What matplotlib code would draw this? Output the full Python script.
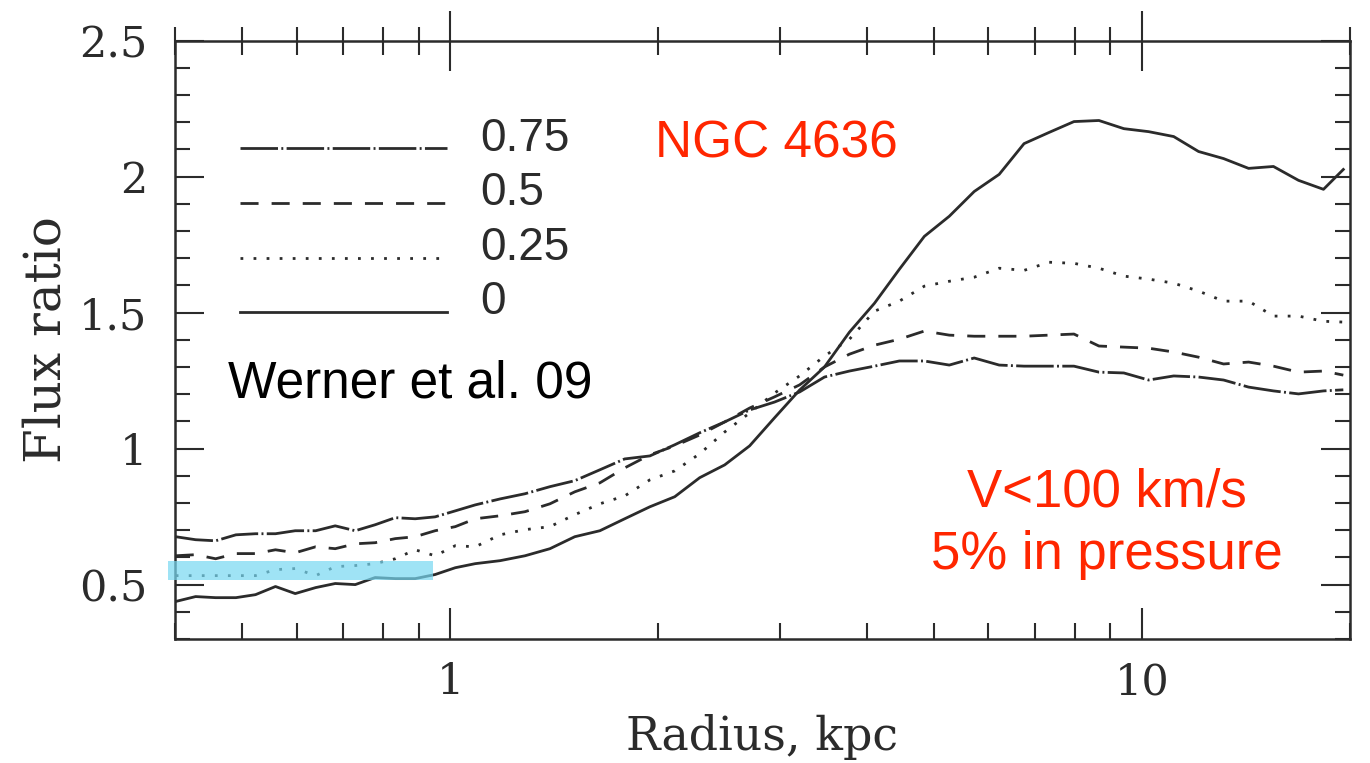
import numpy as np
import matplotlib.pyplot as plt
from matplotlib.patches import Rectangle
from matplotlib.ticker import LogLocator, NullFormatter, MultipleLocator, FixedLocator

# radius in kpc (log sampled)
radius = [0.401, 0.4285, 0.458, 0.490, 0.523, 0.559, 0.597, 0.639, 0.682, 0.729,
          0.779, 0.833, 0.890, 0.951, 1.017, 1.087, 1.181, 1.283, 1.394, 1.514,
          1.646, 1.788, 1.944, 2.112, 2.295, 2.494, 2.710, 2.944, 3.200, 3.477,
          3.778, 4.106, 4.461, 4.848, 5.268, 5.724, 6.220, 6.757, 7.342, 7.978,
          8.670, 9.419, 10.23, 11.12, 12.08, 13.13, 14.27, 15.50, 16.85, 18.31, 19.56]

# flux ratio for the different turbulence fractions
flux_0 = [0.438, 0.456, 0.452, 0.452, 0.463, 0.493, 0.467, 0.489, 0.504, 0.500,
          0.526, 0.522, 0.522, 0.537, 0.562, 0.577, 0.588, 0.606, 0.632, 0.676,
          0.698, 0.742, 0.786, 0.823, 0.893, 0.940, 1.010, 1.113, 1.215, 1.300,
          1.428, 1.534, 1.659, 1.780, 1.854, 1.945, 2.008, 2.121, 2.162, 2.202,
          2.206, 2.176, 2.165, 2.147, 2.092, 2.066, 2.030, 2.037, 1.986, 1.953, 2.026]
flux_025 = [0.533, 0.533, 0.533, 0.533, 0.533, 0.555, 0.559, 0.533, 0.566, 0.570,
            0.577, 0.595, 0.628, 0.606, 0.643, 0.639, 0.683, 0.702, 0.713, 0.757,
            0.797, 0.826, 0.885, 0.918, 0.981, 1.061, 1.131, 1.204, 1.267, 1.340,
            1.402, 1.505, 1.542, 1.597, 1.615, 1.630, 1.663, 1.655, 1.685, 1.681,
            1.663, 1.634, 1.623, 1.608, 1.579, 1.542, 1.542, 1.487, 1.487, 1.468, 1.465]
flux_05 = [0.606, 0.610, 0.595, 0.614, 0.614, 0.628, 0.617, 0.639, 0.632, 0.650,
           0.654, 0.669, 0.676, 0.698, 0.713, 0.742, 0.753, 0.768, 0.797, 0.841,
           0.874, 0.929, 0.977, 1.010, 1.050, 1.098, 1.149, 1.190, 1.234, 1.300,
           1.347, 1.380, 1.402, 1.432, 1.417, 1.413, 1.413, 1.413, 1.417, 1.421,
           1.377, 1.373, 1.369, 1.355, 1.336, 1.311, 1.318, 1.303, 1.281, 1.285, 1.270]
flux_075 = [0.676, 0.665, 0.661, 0.683, 0.687, 0.687, 0.698, 0.698, 0.716, 0.698,
            0.720, 0.746, 0.742, 0.749, 0.771, 0.793, 0.815, 0.834, 0.860, 0.882,
            0.922, 0.962, 0.973, 1.014, 1.058, 1.098, 1.142, 1.171, 1.208, 1.263,
            1.285, 1.303, 1.322, 1.322, 1.307, 1.333, 1.307, 1.303, 1.303, 1.303,
            1.281, 1.278, 1.252, 1.267, 1.263, 1.252, 1.226, 1.212, 1.201, 1.212, 1.216]

labels = ["0.75", "0.5", "0.25", "0"]

ink = '#2b2b2b'
red = '#ff2600'
lw = 2.0
styles = [(0, (13.5, 1.2, 0.7, 1.2)), (0, (6.5, 4.7)), (0, (1.0, 3.7)), '-']
series = [flux_075, flux_05, flux_025, flux_0]

fig = plt.figure(figsize=(13.7, 7.63), dpi=100)
ax = fig.add_axes([0.1277, 0.1625, 0.8577, 0.7844])

for y, ls in zip(series, styles):
    ax.plot(radius, y, color=ink, lw=lw, linestyle=ls)

ax.set_xscale('log')
ax.set_xlim(0.4, 20)
ax.set_ylim(0.3, 2.5)

serif = 'DejaVu Serif'
ax.xaxis.set_major_locator(FixedLocator([1, 10]))
ax.set_xticklabels(['1', '10'], family=serif, fontsize=31, color=ink)
ax.xaxis.set_minor_locator(LogLocator(base=10, subs=np.arange(2, 10)))
ax.xaxis.set_minor_formatter(NullFormatter())
ax.set_yticks([0.5, 1, 1.5, 2, 2.5])
ax.set_yticklabels(['0.5', '1', '1.5', '2', '2.5'], family=serif, fontsize=31, color=ink)
ax.yaxis.set_minor_locator(MultipleLocator(0.1))

ax.tick_params(axis='x', which='major', direction='in', length=22, width=1.5,
               color=ink, pad=16, top=False)
ax.tick_params(axis='x', which='minor', direction='in', length=11.5, width=1.5,
               color=ink, top=False)
ax.tick_params(axis='y', which='major', direction='in', length=21, width=1.5,
               color=ink, pad=20, right=True)
ax.tick_params(axis='y', which='minor', direction='in', length=10.5, width=1.5,
               color=ink, right=True)
for s in ax.spines.values():
    s.set_linewidth(1.8)
    s.set_color(ink)

# top axis has ticks crossing the frame
ax_top = ax.twiny()
ax_top.set_xscale('log')
ax_top.set_xlim(0.4, 20)
ax_top.xaxis.set_major_locator(FixedLocator([1, 10]))
ax_top.xaxis.set_minor_locator(LogLocator(base=10, subs=np.arange(2, 10)))
ax_top.xaxis.set_major_formatter(NullFormatter())
ax_top.xaxis.set_minor_formatter(NullFormatter())
ax_top.tick_params(axis='x', which='major', direction='inout', length=43, width=1.5, color=ink)
ax_top.tick_params(axis='x', which='minor', direction='inout', length=20, width=1.5, color=ink)
for s in ax_top.spines.values():
    s.set_visible(False)

ax.set_xlabel('Radius, kpc', family=serif, fontsize=33, color=ink)
ax.set_ylabel('Flux ratio', family=serif, fontsize=36, color=ink)
ax.xaxis.set_label_coords(0.5, -0.125)
ax.yaxis.set_label_coords(-0.088, 0.5)

# legend
leg_y = [0.820, 0.7285, 0.6366, 0.5464]
for ly, ls, lab in zip(leg_y, styles, labels):
    ax.plot([0.0553, 0.2315], [ly, ly], transform=ax.transAxes, color=ink, lw=lw, linestyle=ls)
    ax.text(0.2596, ly - 0.004, lab, transform=ax.transAxes, fontsize=33,
            family='Liberation Sans', color=ink, va='baseline', ha='left')

ax.text(0.4085, 0.805, 'NGC 4636', transform=ax.transAxes, fontsize=37,
        family='Liberation Sans', color=red, va='baseline')
ax.text(0.045, 0.403, 'Werner et al. 09', transform=ax.transAxes, fontsize=37,
        family='Liberation Sans', color='black', va='baseline')
ax.text(0.793, 0.222, 'V<100 km/s', transform=ax.transAxes, fontsize=38,
        family='Liberation Sans', color=red, va='baseline', ha='center')
ax.text(0.793, 0.117, '5% in pressure', transform=ax.transAxes, fontsize=38,
        family='Liberation Sans', color=red, va='baseline', ha='center')

# cyan highlight over the inner region
ax.add_patch(Rectangle((0.391, 0.518), 0.945 - 0.391, 0.070, facecolor='#77d8f2',
                       alpha=0.7, edgecolor='none', clip_on=False, zorder=5))

fig.savefig('out.png', dpi=100, facecolor='white')
